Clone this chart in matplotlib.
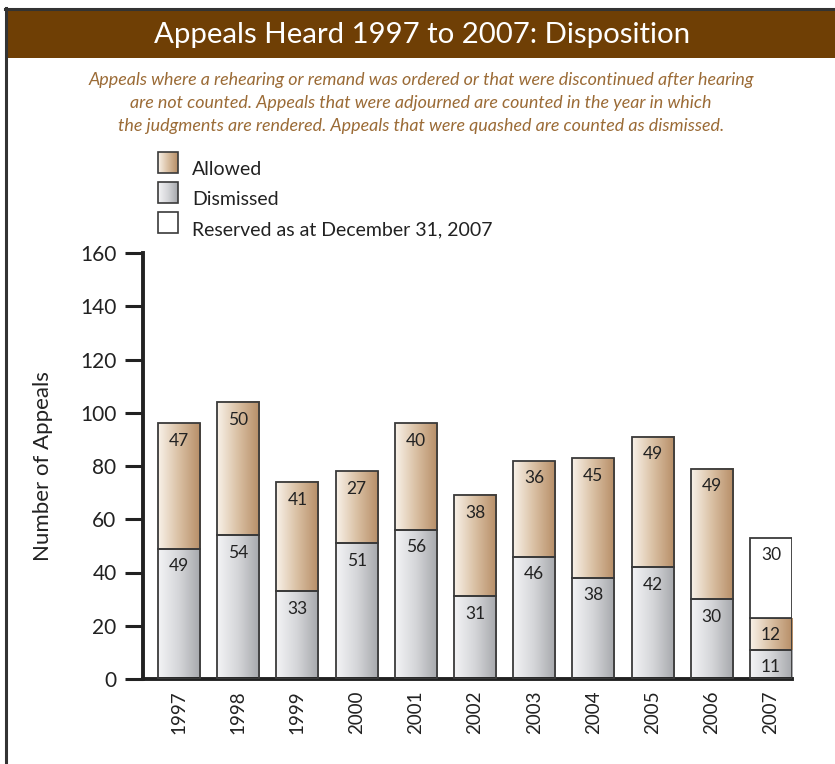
import numpy as np
import matplotlib
matplotlib.use("Agg")
import matplotlib.pyplot as plt
from matplotlib.colors import LinearSegmentedColormap
from matplotlib.patches import Rectangle
from matplotlib.lines import Line2D

years = ["1997", "1998", "1999", "2000", "2001", "2002", "2003", "2004", "2005", "2006", "2007"]
dismissed = [49, 54, 33, 51, 56, 31, 46, 38, 42, 30, 11]
allowed = [47, 50, 41, 27, 40, 38, 36, 45, 49, 49, 12]
reserved = [0, 0, 0, 0, 0, 0, 0, 0, 0, 0, 30]
yticks = [0, 20, 40, 60, 80, 100, 120, 140, 160]

title = "Appeals Heard 1997 to 2007: Disposition"
subtitle = ("Appeals where a rehearing or remand was ordered or that were discontinued after hearing\n"
            "are not counted. Appeals that were adjourned are counted in the year in which\n"
            "the judgments are rendered. Appeals that were quashed are counted as dismissed.")
legend_labels = ["Allowed", "Dismissed", "Reserved as at December 31, 2007"]

FONT = "Lato"
plt.rcParams['font.family'] = [FONT, 'DejaVu Sans']

cm_allowed = LinearSegmentedColormap.from_list("al", ["#f9f2e9", "#d9bfa2", "#b68d66"])
cm_dismissed = LinearSegmentedColormap.from_list("di", ["#f4f4f6", "#d4d5d8", "#a5a7ab"])
grad = np.linspace(0, 1, 256).reshape(1, -1)

fig = plt.figure(figsize=(8.35, 7.64), dpi=100)

# frame lines and title bar
fig.add_artist(Rectangle((8/835, 1-58/764), 1, 48/764, transform=fig.transFigure,
                         facecolor="#6f3f05", edgecolor="none"))
fig.add_artist(Line2D([6/835, 6/835], [0, 1-8/764], transform=fig.transFigure,
                      color="#333333", lw=2.2))
fig.add_artist(Line2D([5/835, 1], [1-9/764, 1-9/764], transform=fig.transFigure,
                      color="#333333", lw=2.2))
fig.text(422/835, 1-35/764, title, color="white", fontsize=21.2, ha="center", va="center")
fig.text(421/835, 1-103/764, subtitle, color="#9b6b36", fontsize=12.9, style="italic",
         ha="center", va="center", linespacing=1.5)

ax = fig.add_axes([143/835, 85/764, 649/835, 426/764])
x = np.arange(len(years))
w = 0.71

def gbar(xc, bottom, height, cmap):
    if height <= 0:
        return
    x0, x1 = xc - w/2, xc + w/2
    if cmap is not None:
        ax.imshow(grad, extent=[x0, x1, bottom, bottom + height], aspect="auto",
                  cmap=cmap, zorder=2, interpolation="bilinear")
    ax.add_patch(Rectangle((x0, bottom), w, height,
                           facecolor="white" if cmap is None else "none",
                           edgecolor="#3a3a3a", lw=1.3, zorder=3))

for i in range(len(years)):
    gbar(x[i], 0, dismissed[i], cm_dismissed)
    gbar(x[i], dismissed[i], allowed[i], cm_allowed)
    gbar(x[i], dismissed[i] + allowed[i], reserved[i], None)
    off = 6.6
    ax.text(x[i], dismissed[i] - off, str(dismissed[i]), ha="center", va="center",
            fontsize=12.5, color="#222222", zorder=4)
    ax.text(x[i], dismissed[i] + allowed[i] - off, str(allowed[i]), ha="center",
            va="center", fontsize=12.5, color="#222222", zorder=4)
    if reserved[i]:
        ax.text(x[i], dismissed[i] + allowed[i] + reserved[i] - off, str(reserved[i]),
                ha="center", va="center", fontsize=12.5, color="#222222", zorder=4)

ax.set_xlim(-0.5 - 0.108, 10 + w/2)
ax.set_ylim(0, 160)
ax.set_yticks(yticks)
ax.set_yticklabels([str(v) for v in yticks], fontsize=15, color="#222222")
ax.set_xticks(x)
ax.set_xticklabels(years, rotation=90, fontsize=13.5, color="#222222")
ax.tick_params(axis="x", length=0, pad=8)
ax.tick_params(axis="y", length=13, width=2.2, color="#222222", pad=6)
for s in ["top", "right"]:
    ax.spines[s].set_visible(False)
for s in ["left", "bottom"]:
    ax.spines[s].set_linewidth(2.8)
    ax.spines[s].set_color("#222222")
ax.set_ylabel("Number of Appeals", fontsize=16, color="#222222")
ax.yaxis.set_label_coords(-0.139, 0.5)
ax.set_facecolor("none")

# legend drawn manually
def leg_box(y_top, cmap, label):
    x0, bw, bh = 158/835, 20/835, 21/764
    y0 = 1 - (y_top + 21)/764
    if cmap is not None:
        lax = fig.add_axes([x0, y0, bw, bh])
        lax.imshow(grad, cmap=cmap, aspect="auto", extent=[0, 1, 0, 1], interpolation="bilinear")
        lax.set_axis_off()
    fig.add_artist(Rectangle((x0, y0), bw, bh, transform=fig.transFigure,
                             facecolor="none", edgecolor="#3a3a3a", lw=1.2))
    fig.text(192/835, y0 + bh/2 - 7/764, label, fontsize=14, color="#222222", va="center")

leg_box(152, cm_allowed, legend_labels[0])
leg_box(182, cm_dismissed, legend_labels[1])
leg_box(212, None, legend_labels[2])

fig.savefig("out.png", dpi=100)
